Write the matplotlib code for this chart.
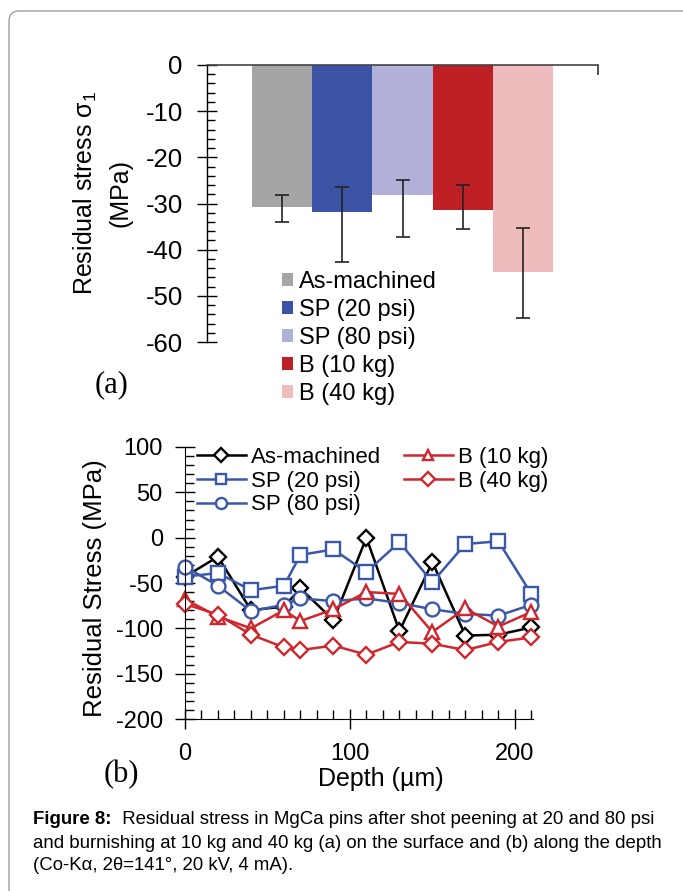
"""
Residual stress figure: (a) surface bars, (b) depth profiles.
"""
import matplotlib
matplotlib.use("Agg")
import matplotlib.pyplot as plt
from matplotlib.patches import FancyBboxPatch
from matplotlib.ticker import MultipleLocator
from matplotlib.transforms import IdentityTransform

plt.rcParams["font.family"] = ["Liberation Sans", "DejaVu Sans"]
plt.rcParams["mathtext.fontset"] = "custom"
plt.rcParams["mathtext.rm"] = "Liberation Sans"
plt.rcParams["mathtext.it"] = "Liberation Sans"
plt.rcParams["axes.unicode_minus"] = False

# (a) surface residual stress
treatments = ["As-machined", "SP (20 psi)", "SP (80 psi)", "B (10 kg)", "B (40 kg)"]
surface_mean = [-30.7, -31.9, -28.2, -31.5, -44.9]
surface_err_low = [3.2, 10.7, 9.0, 4.0, 9.8]    # distance to lower whisker
surface_err_high = [2.5, 5.4, 3.3, 5.5, 9.6]    # distance to upper whisker
bar_colors = ["#a6a5a6", "#3a53a4", "#b1b0d8", "#bf2026", "#efbcbd"]

# (b) depth profiles
depth = [0, 20, 40, 60, 70, 90, 110, 130, 150, 170, 190, 210]
as_machined = [-43, -21, -80, -76, -56, -91, 0, -103, -27, -108, -107, -99]
sp20 = [-43, -39, -58, -53, -19, -13, -38, -5, -49, -7, -4, -62]
sp80 = [-32, -53, -81, -74, -67, -70, -67, -72, -79, -84, -86, -74]
b10 = [-68, -87, -100, -80, -92, -79, -60, -62, -104, -78, -98, -82]
b40 = [-73, -85, -107, -121, -124, -119, -129, -115, -117, -124, -115, -110]

BLUE = "#3b58a8"
RED = "#d0262d"

fig = plt.figure(figsize=(6.83, 8.91), dpi=100)

# outer rounded frame (runs off the right/bottom edge)
frame = FancyBboxPatch((9, -30), 720, 880 + 30, boxstyle="round,pad=0,rounding_size=10",
                       transform=IdentityTransform(), facecolor="none",
                       edgecolor="#a0a0a0", linewidth=1.0)
fig.patches.append(frame)

# ---------- (a) ----------
ax1 = fig.add_axes([207 / 683, 1 - 342 / 891, 391 / 683, 277 / 891])
x = list(range(len(treatments)))
bars = ax1.bar(x, surface_mean, width=1.0, color=bar_colors, zorder=2)
ax1.errorbar(x, surface_mean, yerr=[surface_err_low, surface_err_high], fmt="none",
             ecolor="#222222", elinewidth=1.2, capsize=4.7, capthick=1.2, zorder=3)
ax1.set_ylim(-60, 0)
ax1.set_xlim(-1.25, 5.25)
for s in ["right", "bottom"]:
    ax1.spines[s].set_visible(False)
ax1.spines["top"].set_color("#444444")
ax1.spines["top"].set_linewidth(1.2)
ax1.spines["left"].set_linewidth(1.0)
ax1.xaxis.set_ticks_position("top")
ax1.set_xticks([5.25])
ax1.set_xticklabels([])
ax1.tick_params(axis="x", direction="in", length=7, width=1.2, color="#333333")
ax1.yaxis.set_major_locator(MultipleLocator(10))
ax1.yaxis.set_minor_locator(MultipleLocator(2))
ax1.tick_params(axis="y", which="major", direction="inout", length=15, width=1.0,
                labelsize=18.5, pad=10)
ax1.tick_params(axis="y", which="minor", direction="in", length=6, width=1.0)

fig.text(85 / 683, 1 - 193 / 891, "Residual stress σ$_1$", rotation=90,
         ha="center", va="center", fontsize=18)
fig.text(121 / 683, 1 - 193 / 891, "(MPa)", rotation=90,
         ha="center", va="center", fontsize=18)
fig.text(112 / 683, 1 - 385 / 891, "(a)", family="Liberation Serif",
         ha="center", va="center", fontsize=22)

ax1.legend(bars, treatments, loc="upper left", bbox_to_anchor=(282 / 683, 1 - 271 / 891),
           bbox_transform=fig.transFigure, frameon=False, fontsize=17,
           handlelength=0.45, handleheight=0.45, handletextpad=0.25,
           labelspacing=0.25, borderpad=0, borderaxespad=0)

# ---------- (b) ----------
ax2 = fig.add_axes([185 / 683, 1 - 719 / 891, 348 / 683, 272 / 891])
series = [
    (as_machined, "As-machined", "black", "D", 8.5),
    (sp20, "SP (20 psi)", BLUE, "s", 9.5),
    (sp80, "SP (80 psi)", BLUE, "o", 10),
    (b10, "B (10 kg)", RED, "^", 9.5),
    (b40, "B (40 kg)", RED, "D", 8.5),
]
for vals, label, col, mk, ms in series:
    ax2.plot(depth, vals, color=col, marker=mk, markersize=ms, markerfacecolor="white",
             markeredgecolor=col, markeredgewidth=1.7, linewidth=1.8, label=label,
             clip_on=False)
ax2.set_xlim(0, 211)
ax2.set_ylim(-200, 100)
for s in ["right", "top"]:
    ax2.spines[s].set_visible(False)
ax2.xaxis.set_major_locator(MultipleLocator(100))
ax2.xaxis.set_minor_locator(MultipleLocator(10))
ax2.yaxis.set_major_locator(MultipleLocator(50))
ax2.yaxis.set_minor_locator(MultipleLocator(10))
ax2.tick_params(which="major", direction="inout", length=14, width=1.0, labelsize=17)
ax2.tick_params(which="minor", direction="in", length=6.5, width=1.0)
ax2.tick_params(axis="y", which="major", pad=9)
ax2.tick_params(axis="x", which="major", pad=10)

fig.text(95 / 683, 1 - 588 / 891, "Residual Stress (MPa)", rotation=90,
         ha="center", va="center", fontsize=18.5)
fig.text(381 / 683, 1 - 779 / 891, "Depth (µm)", ha="center", va="center", fontsize=18)
fig.text(121 / 683, 1 - 775 / 891, "(b)", family="Liberation Serif",
         ha="center", va="center", fontsize=22)

ax2.legend(loc="upper left", bbox_to_anchor=(197 / 683, 1 - 447 / 891),
           bbox_transform=fig.transFigure, ncol=2, frameon=False, fontsize=16,
           handlelength=2.2, handletextpad=0.25, columnspacing=1.0,
           labelspacing=0.12, borderpad=0, borderaxespad=0, markerscale=0.8)

# ---------- caption ----------
cap_fs = 13.4
t = fig.text(33 / 683, 1 - 820 / 891, "Figure 8:", weight="bold", fontsize=cap_fs,
             ha="left", va="center")
ax2.annotate("  Residual stress in MgCa pins after shot peening at 20 and 80 psi",
             xy=(1, 0.5), xycoords=t, xytext=(0, 0), textcoords="offset points",
             ha="left", va="center", fontsize=cap_fs, annotation_clip=False)
fig.text(33 / 683, 1 - 843 / 891,
         "and burnishing at 10 kg and 40 kg (a) on the surface and (b) along the depth",
         fontsize=cap_fs, ha="left", va="center")
fig.text(33 / 683, 1 - 866 / 891, "(Co-Kα, 2θ=141°, 20 kV, 4 mA).",
         fontsize=cap_fs, ha="left", va="center")

fig.savefig("out.png", dpi=100)
